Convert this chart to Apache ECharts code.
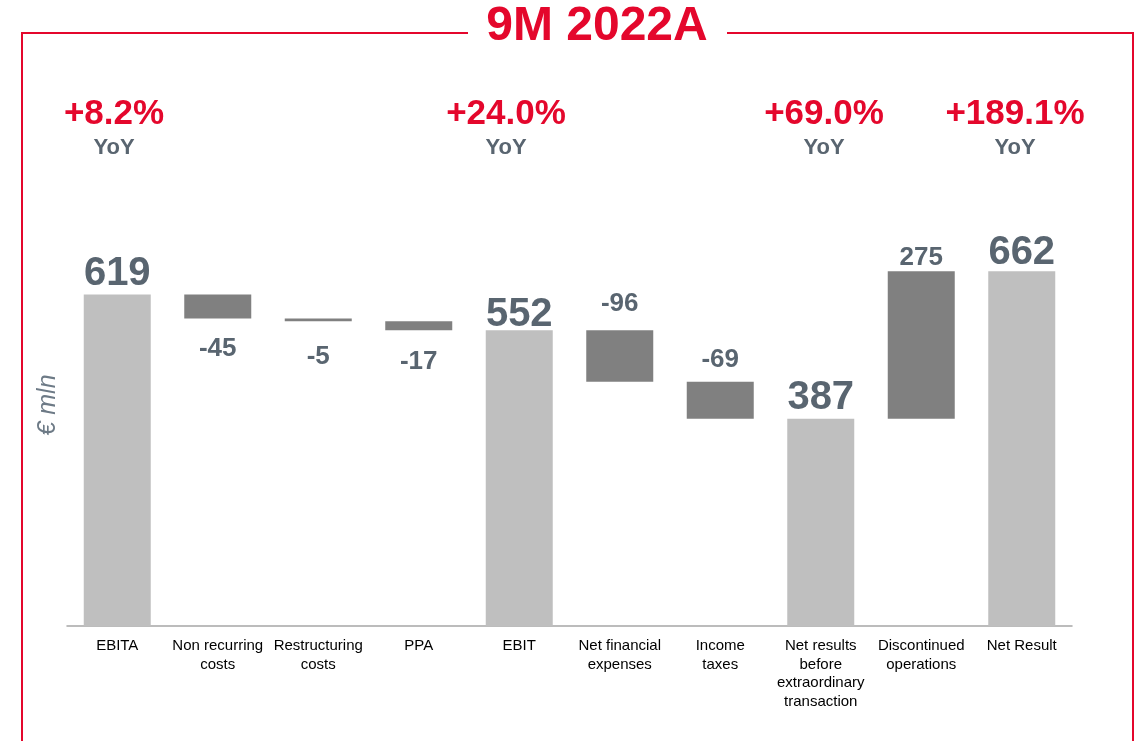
<!DOCTYPE html>
<html>
<head>
<meta charset="utf-8">
<title>9M 2022A</title>
<script src="https://cdn.jsdelivr.net/npm/echarts@6/dist/echarts.min.js"></script>
<style>
  html, body { margin: 0; padding: 0; background: #fff; }
  #chart { width: 1139px; height: 741px; }
</style>
</head>
<body>
<div id="chart"></div>
<script>
const categories = [
  'EBITA', 'Non recurring\ncosts', 'Restructuring\ncosts', 'PPA', 'EBIT',
  'Net financial\nexpenses', 'Income\ntaxes', 'Net results\nbefore\nextraordinary\ntransaction',
  'Discontinued\noperations', 'Net Result'
]
const values = [619, -45, -5, -17, 552, -96, -69, 387, 275, 662]
const isTotal = [true, false, false, false, true, false, false, true, false, true]
const yoyLabels = ['+8.2%', '+24.0%', '+69.0%', '+189.1%']
const yoyUnder = 'YoY'
const chartTitle = '9M 2022A'
const unitLabel = '€ mln'

const RED = '#e4072c'
const LABEL_GREY = '#596570'

// waterfall: invisible base + visible part
const base = []
const visible = []
let running = 0
values.forEach((v, i) => {
  if (isTotal[i]) {
    base.push(0)
    visible.push(v)
    running = v
  } else {
    base.push(Math.min(running, running + v))
    visible.push(Math.abs(v))
    running += v
  }
})

const labelBelow = [1, 2, 3]
const labelDistance = [0, 17, 23, 19, -5, 13, 9, 1, 1, -2]

const visibleData = visible.map((v, i) => ({
  value: v,
  itemStyle: { color: isTotal[i] ? '#bfbfbf' : '#808080' },
  label: {
    show: true,
    position: labelBelow.includes(i) ? 'bottom' : 'top',
    distance: labelDistance[i],
    fontSize: isTotal[i] ? 40 : 26,
    fontWeight: 'bold',
    color: LABEL_GREY,
    fontFamily: 'Liberation Sans, Arial, sans-serif',
    formatter: () => String(values[i])
  }
}))

const chartDom = document.getElementById('chart')
const myChart = echarts.init(chartDom)

const yoyX = [114, 506, 824, 1015]
const graphics = []
yoyLabels.forEach((t, i) => {
  graphics.push({
    type: 'text', x: yoyX[i], y: 114,
    style: {
      text: t, fill: RED, fontSize: 35, fontWeight: 'bold',
      fontFamily: 'Liberation Sans, Arial, sans-serif',
      textAlign: 'center', textVerticalAlign: 'middle'
    }
  })
  graphics.push({
    type: 'text', x: yoyX[i], y: 148,
    style: {
      text: yoyUnder, fill: LABEL_GREY, fontSize: 22, fontWeight: 'bold',
      fontFamily: 'Liberation Sans, Arial, sans-serif',
      textAlign: 'center', textVerticalAlign: 'middle'
    }
  })
})

// red frame around the chart, broken by the title
graphics.push(
  { type: 'line', shape: { x1: 22, y1: 33, x2: 468, y2: 33 }, style: { stroke: RED, lineWidth: 2 } },
  { type: 'line', shape: { x1: 727, y1: 33, x2: 1133, y2: 33 }, style: { stroke: RED, lineWidth: 2 } },
  { type: 'line', shape: { x1: 22, y1: 32, x2: 22, y2: 741 }, style: { stroke: RED, lineWidth: 2 } },
  { type: 'line', shape: { x1: 1133, y1: 32, x2: 1133, y2: 741 }, style: { stroke: RED, lineWidth: 2 } },
  {
    type: 'text', x: 597, y: 27,
    style: {
      text: chartTitle, fill: RED, fontSize: 48, fontWeight: 'bold',
      fontFamily: 'Liberation Sans, Arial, sans-serif',
      textAlign: 'center', textVerticalAlign: 'middle'
    }
  },
  {
    type: 'text', x: 48, y: 405, rotation: Math.PI / 2,
    style: {
      text: unitLabel, fill: '#6d7a86', fontSize: 25, fontStyle: 'italic',
      fontFamily: 'Liberation Sans, Arial, sans-serif',
      textAlign: 'center', textVerticalAlign: 'middle'
    }
  }
)

const option = {
  animation: false,
  backgroundColor: '#ffffff',
  grid: {
    left: 67,
    right: 67,
    top: 251,
    bottom: 115,
    containLabel: false
  },
  xAxis: {
    type: 'category',
    data: categories,
    axisLine: { lineStyle: { color: '#a6a6a6', width: 1.5 } },
    axisTick: { show: false },
    axisLabel: {
      interval: 0,
      margin: 11,
      color: '#000000',
      fontSize: 15,
      lineHeight: 18.5,
      fontFamily: 'Liberation Sans, Arial, sans-serif'
    }
  },
  yAxis: {
    type: 'value',
    min: 0,
    max: 700,
    axisLine: { show: false },
    axisTick: { show: false },
    axisLabel: { show: false },
    splitLine: { show: false }
  },
  series: [
    {
      name: 'base',
      type: 'bar',
      stack: 'wf',
      barWidth: 67,
      itemStyle: { color: 'transparent' },
      emphasis: { disabled: true },
      data: base
    },
    {
      name: 'value',
      type: 'bar',
      stack: 'wf',
      barWidth: 67,
      data: visibleData
    }
  ],
  graphic: graphics
}
myChart.setOption(option)

window.addEventListener('resize', () => {
  myChart.resize()
})
</script>
</body>
</html>
